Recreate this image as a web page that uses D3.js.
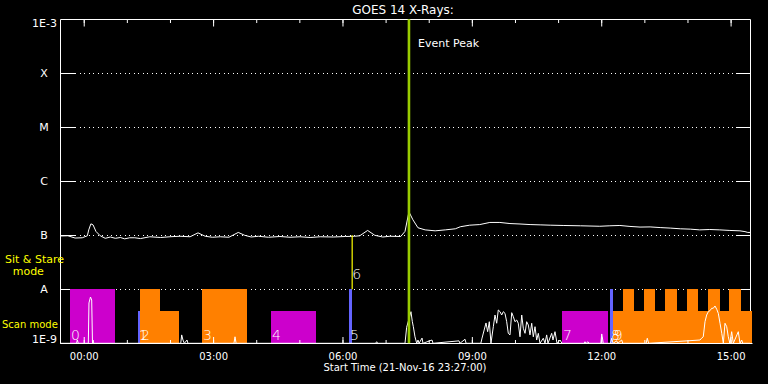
<!DOCTYPE html>
<html><head><meta charset="utf-8">
<script src="https://cdn.jsdelivr.net/npm/d3@7"></script>
<style>
body{margin:0;background:#000}
svg{display:block;background:#000}
text{font-family:"DejaVu Sans",sans-serif;fill:#fff}
</style>
</head><body>
<svg id="c" width="768" height="384"></svg>
<script>
// ---------- data ----------
const startTime = Date.UTC(2016, 10, 21, 23, 27, 0);
const spanMinutes = 960;
const titleText = "GOES 14 X-Rays:";
const xAxisTitle = "Start Time (21-Nov-16 23:27:00)";
const levelLabels = ["1E-3", "X", "M", "C", "B", "A", "1E-9"];
const levelValues = [1e-3, 1e-4, 1e-5, 1e-6, 1e-7, 1e-8, 1e-9];

// long channel (minutes after start, W/m^2)
const longTime = [0,11,21,31,38,40,43,46,50,56,63,70,77,84,90,97,104,112,125,140,153,167,181,192,202,212,223,235,248,257,266,276,290,306,320,334,348,362,380,397,410,417,428,438,449,459,474,480,485.5,491,498,508,522,536,550,557,570,584,598,612,626,640,654,668,682,700,724,751,765,779,793,807,821,835,849,863,877,890,904,918,932,946,953,957,960];
const longFlux = [9.7e-8,9.8e-8,8.9e-8,9.0e-8,9.8e-8,1.26e-7,1.63e-7,1.56e-7,1.18e-7,9.8e-8,8.8e-8,9.3e-8,8.8e-8,9.1e-8,8.6e-8,9.0e-8,9.0e-8,8.7e-8,9.4e-8,9.1e-8,9.4e-8,9.6e-8,9.4e-8,1.11e-7,9.6e-8,9.2e-8,9.4e-8,9.2e-8,1.13e-7,1.0e-7,9.3e-8,9.6e-8,9.2e-8,9.5e-8,9.2e-8,9.4e-8,9.1e-8,9.4e-8,9.3e-8,9.5e-8,9.6e-8,9.8e-8,1.23e-7,1.0e-7,9.3e-8,9.6e-8,9.5e-8,1.18e-7,2.72e-7,1.94e-7,1.38e-7,1.26e-7,1.21e-7,1.26e-7,1.32e-7,1.44e-7,1.54e-7,1.58e-7,1.73e-7,1.73e-7,1.65e-7,1.62e-7,1.58e-7,1.56e-7,1.54e-7,1.52e-7,1.50e-7,1.47e-7,1.50e-7,1.52e-7,1.46e-7,1.42e-7,1.43e-7,1.39e-7,1.36e-7,1.32e-7,1.30e-7,1.26e-7,1.28e-7,1.26e-7,1.23e-7,1.21e-7,1.17e-7,1.13e-7,1.13e-7];

// short channel (minutes after start, units of 1e-9 W/m^2)
const shortTime = [0,23,24.1,25.5,39.4,40.3,42.4,44.1,45.2,45.9,47,168,169.3,171.1,173,176.7,178,242,243.5,245,439,440.6,442,480,482.3,485.9,488.3,490.2,491.6,493.9,496.3,498.1,499.5,503.7,505,517.6,519,555.1,556.5,563.5,565,585.5,587.2,592.7,595,597.3,599.6,602.9,605.2,607.6,609.8,612.2,614.5,616.8,619.1,621.5,623.7,626.1,628.5,630.7,633,635.4,637.6,640,642.4,644.6,647,649.3,651.6,653.9,656.3,658.5,660.9,663.2,665.5,667.8,672.4,674.8,677.1,678.9,684.1,685.9,688.7,691.5,695.7,698.4,729,730.4,732,734.6,736,752.5,753.7,755.9,766,767.6,769.5,774.5,776,781.5,783,815.5,817.1,819,890.4,892.8,895,897.4,899.7,902,904.3,906.7,908.9,911.3,913.7,915.9,918.3,920.7,922.9,925.2,927.6,929.8,932,934.5,936.8,943.7,946.1,948.4,950,960];
const shortNano = [1,1,1.15,1,1,5.58,7.2,6.34,1,1.15,1,1,1.43,1.15,1,1.15,1,1,1.32,1,1,1.07,1,1,1.98,2.94,3.85,2.51,2.03,1.32,1,1.15,1,1.25,1,1.15,1,1.11,1,1.19,1,1,1.25,2.38,1.64,2.51,1,2.03,3.34,2.35,4.14,3.85,3.34,3.85,3.59,2.51,1.53,1.43,3.69,3.11,2.51,2.70,2.35,1.32,3.34,1.90,1.53,2.51,2.18,1.43,2.35,1.32,2.03,1.15,1.53,1,1.24,1,1.43,1,1.53,1.15,1.64,1,1.15,1,1,1.07,1,1.07,1,1,1.49,1,1,1.24,1,1.11,1,1.15,1,1,1.24,1,1.15,1.25,1.32,2.51,3.34,3.85,4.02,4.45,4.45,4.91,4.26,3.59,2.35,1.53,1,2.35,2.03,1.32,1,1.64,1,1.64,1,1.15,1,1];

// observing modes
const modeStart = [13.9,108.1,111.3,139.1,197.6,293.6,402.1,698.4,765.2,769,783.3,812.5,841.7,872.4,901.6,930.8];
const modeEnd   = [76.5,111.3,139.1,165.6,259.7,355.8,405.8,762.4,769,963,798.6,827.8,858,887.7,917.9,947.1];
const modeTop   = [1e-8,4e-9,1e-8,4e-9,1e-8,4e-9,1e-8,4e-9,1e-8,4e-9,1e-8,1e-8,1e-8,1e-8,1e-8,1e-8];
const modeKind  = ["m","b","o","o","o","m","b","m","b","o","o","o","o","o","o","o"];
const modeLabel = ["0","1","2","","3","4","5","7","8","9","","","","","",""];
const sitStareTime = 406.5, sitStareLabel = "6";
const sitStareRange = [1e-8, 1e-7];
const eventPeakTime = 485.5;

// ---------- drawing ----------
const svg = d3.select("#c");
const L = 60, R = 750, T = 19.3, B = 343.3;
const t = m => new Date(startTime + m * 60000);
const x = d3.scaleUtc().domain([t(0), t(spanMinutes)]).range([L, R]);
const y = d3.scaleLog().domain([1e-9, 1e-3]).range([B, T]).clamp(true);
const colors = {m: "#cc00cc", o: "#ff8000", b: "#6464ff"};
const px = v => Math.round(v) + 0.5;

// right border (behind bars)
svg.append("line").attr("x1", px(R)).attr("x2", px(R)).attr("y1", px(T)).attr("y2", px(B)).attr("stroke", "#fff");

// grid
levelValues.slice(1, 6).forEach(v => {
  const yy = px(y(v));
  svg.append("line").attr("x1", L + 15).attr("x2", R - 14).attr("y1", yy).attr("y2", yy)
    .attr("stroke", "#fff").attr("stroke-dasharray", "1 3.5").attr("shape-rendering", "crispEdges");
  svg.append("line").attr("x1", L).attr("x2", L + 15).attr("y1", yy).attr("y2", yy).attr("stroke", "#fff");
  svg.append("line").attr("x1", R - 14).attr("x2", R).attr("y1", yy).attr("y2", yy).attr("stroke", "#fff");
});

// mode bars
svg.append("g").attr("shape-rendering", "crispEdges").selectAll("rect").data(modeStart).join("rect")
  .attr("x", (d, i) => x(t(d)))
  .attr("width", (d, i) => x(t(modeEnd[i])) - x(t(d)))
  .attr("y", (d, i) => y(modeTop[i]))
  .attr("height", (d, i) => y(1e-9) - y(modeTop[i]))
  .attr("fill", (d, i) => colors[modeKind[i]]);

// borders
svg.append("line").attr("x1", px(L)).attr("x2", px(L)).attr("y1", px(T)).attr("y2", px(B)).attr("stroke", "#fff");
svg.append("line").attr("x1", px(L)).attr("x2", px(R)).attr("y1", px(T)).attr("y2", px(T)).attr("stroke", "#fff");
svg.append("line").attr("x1", px(L)).attr("x2", px(R + 2)).attr("y1", px(B)).attr("y2", px(B)).attr("stroke", "#fff");

// time axes
const fmt = d3.utcFormat("%H:%M");
function timeAxes(gen, ypos, minorLen, majorLen, labels) {
  const g1 = svg.append("g").attr("transform", `translate(0,${ypos})`)
    .call(gen(x).ticks(d3.utcHour.every(1)).tickSize(minorLen).tickFormat(""));
  g1.select(".domain").remove();
  const g2 = svg.append("g").attr("transform", `translate(0,${ypos})`)
    .call(gen(x).ticks(d3.utcHour.every(3)).tickSize(majorLen).tickPadding(9).tickFormat(labels ? fmt : ""));
  g2.select(".domain").remove();
  [g1, g2].forEach(g => g.selectAll("line").attr("stroke", "#fff"));
  g2.selectAll("text").attr("fill", "#fff").style("font-size", "10px").style("font-family", '"DejaVu Sans",sans-serif');
}
timeAxes(d3.axisBottom, px(T), 3.5, 7, false);
timeAxes(d3.axisBottom, px(B), -3.5, -6.5, true);

// y labels
levelLabels.forEach((lab, i) => {
  const yy = y(levelValues[i]);
  const txt = svg.append("text").style("font-size", "11px").text(lab);
  if (i === 0) txt.attr("x", 57).attr("y", yy + 8).attr("text-anchor", "end");
  else if (i === 6) txt.attr("x", 57).attr("y", yy).attr("text-anchor", "end");
  else txt.attr("x", 44).attr("y", yy + 4).attr("text-anchor", "middle");
});

// data lines
const lineLong = d3.line().x((d, i) => x(t(longTime[i]))).y(d => y(d));
svg.append("path").attr("d", lineLong(longFlux)).attr("fill", "none").attr("stroke", "#fff").attr("stroke-width", 1);
const lineShort = d3.line().x((d, i) => x(t(shortTime[i]))).y(d => y(d * 1e-9));
svg.append("path").attr("d", lineShort(shortNano)).attr("fill", "none").attr("stroke", "#fff").attr("stroke-width", 1);

// sit & stare marker
svg.append("line").attr("x1", x(t(sitStareTime))).attr("x2", x(t(sitStareTime)))
  .attr("y1", y(sitStareRange[1])).attr("y2", y(sitStareRange[0])).attr("stroke", "#ffff00").attr("stroke-width", 1.2);

// event peak
svg.append("line").attr("x1", x(t(eventPeakTime))).attr("x2", x(t(eventPeakTime)))
  .attr("y1", T).attr("y2", B).attr("stroke", "#99cc00").attr("stroke-width", 2.6);
svg.append("text").attr("x", x(t(eventPeakTime)) + 9).attr("y", 47).style("font-size", "11px").text("Event Peak");

// mode labels
modeLabel.forEach((lab, i) => {
  if (!lab) return;
  svg.append("text").attr("x", x(t(modeStart[i])) + 1).attr("y", B - 3.5)
    .style("font-size", "14px").style("font-weight", "300").text(lab);
});
svg.append("text").attr("x", x(t(sitStareTime))).attr("y", 278.5)
  .style("font-size", "14px").style("font-weight", "300").text(sitStareLabel);

// titles
svg.append("text").attr("x", 403).attr("y", 14).attr("text-anchor", "middle").style("font-size", "12px").text(titleText);
svg.append("text").attr("x", 405).attr("y", 371).attr("text-anchor", "middle").style("font-size", "10px").text(xAxisTitle);
svg.append("text").attr("x", 5).attr("y", 263.3).style("font-size", "11px").style("fill", "#ffff00").text("Sit & Stare");
svg.append("text").attr("x", 12.7).attr("y", 275).style("font-size", "11px").style("fill", "#ffff00").text("mode");
svg.append("text").attr("x", 2).attr("y", 328).style("font-size", "10px").style("fill", "#ffff00").text("Scan mode");
</script>
</body></html>
